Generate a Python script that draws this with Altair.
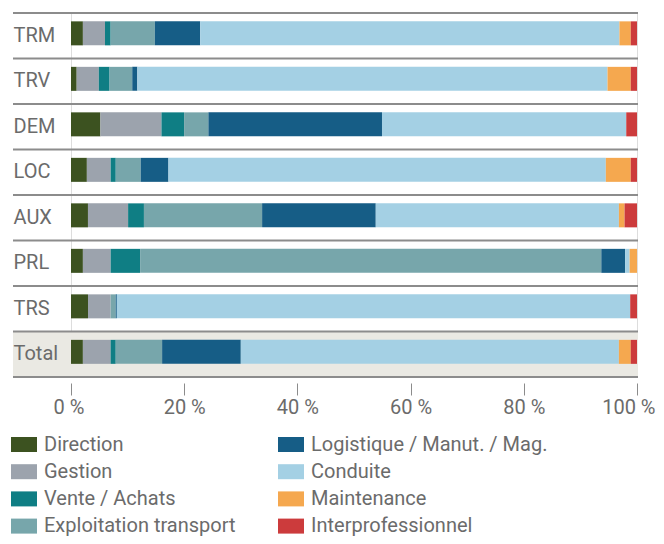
import altair as alt
import pandas as pd

cats = ["TRM", "TRV", "DEM", "LOC", "AUX", "PRL", "TRS", "Total"]
series = ["Direction", "Gestion", "Vente / Achats", "Exploitation transport",
          "Logistique / Manut. / Mag.", "Conduite", "Maintenance", "Interprofessionnel"]
colors = ["#3c5220", "#9ca3ad", "#0f7e84", "#77a6ab", "#165d86", "#a4d0e4", "#f5a84f", "#cc3b3c"]

direction = [2.1, 1.0, 5.2, 2.8, 3.0, 2.1, 3.0, 2.1]
gestion = [3.9, 3.9, 10.8, 4.2, 7.1, 4.9, 4.0, 4.9]
vente = [1.0, 1.9, 4.0, 0.9, 2.8, 5.2, 0.0, 0.9]
exploitation = [7.8, 4.0, 4.3, 4.4, 20.9, 81.4, 0.9, 8.2]
logistique = [8.0, 0.9, 30.7, 4.9, 20.1, 4.2, 0.2, 13.9]
conduite = [74.0, 82.9, 43.2, 77.2, 43.0, 0.8, 90.7, 66.8]
maintenance = [2.0, 4.1, 0.0, 4.4, 1.0, 1.3, 0.0, 2.1]
interpro = [1.1, 1.1, 1.9, 1.1, 2.2, 0.0, 1.2, 1.1]
ticks = [0, 0.2, 0.4, 0.6, 0.8, 1.0]

vals = [direction, gestion, vente, exploitation, logistique, conduite, maintenance, interpro]
rows = []
for si, s in enumerate(series):
    for ci, c in enumerate(cats):
        rows.append({"cat": c, "serie": s, "idx": si, "val": vals[si][ci]})
df = pd.DataFrame(rows)

FONT = "Roboto"
GRAY = "#6b6b6b"
LINE = "#8c8c8c"

yscale = alt.Scale(domain=cats, paddingInner=0, paddingOuter=0)
yaxis = alt.Axis(title=None, labelAlign="left", labelPadding=58, ticks=False, domain=False,
                 grid=False, labelFont=FONT, labelFontSize=20, labelColor=GRAY)

bg = alt.Chart(pd.DataFrame({"cat": ["Total"]})).mark_rect(color="#eae9e3").encode(
    y=alt.Y("cat:N", scale=yscale, axis=yaxis),
    x=alt.value(-58), x2=alt.value(567),
)

lines = alt.Chart(pd.DataFrame({"cat": cats})).mark_rule(color=LINE, strokeWidth=2).encode(
    y=alt.Y("cat:N", scale=yscale, axis=yaxis, bandPosition=0),
    x=alt.value(-58), x2=alt.value(567),
)

bottom = alt.Chart(pd.DataFrame({"cat": ["Total"]})).mark_rule(color=LINE, strokeWidth=2).encode(
    y=alt.Y("cat:N", scale=yscale, axis=yaxis, bandPosition=1),
    x=alt.value(-58), x2=alt.value(567),
)

bars = alt.Chart(df).mark_bar(height=24, yOffset=-2.4).encode(
    y=alt.Y("cat:N", scale=yscale, axis=yaxis),
    x=alt.X("val:Q", stack="normalize",
            scale=alt.Scale(domain=[0, 1], nice=False),
            axis=alt.Axis(title=None, values=ticks, labelExpr="format(datum.value*100, 'd') + ' %'",
                          labelFlush=True, labelFlushOffset=18, domain=False, grid=False,
                          tickSize=12, tickColor=LINE, tickWidth=1, offset=6, labelPadding=2,
                          labelFont=FONT, labelFontSize=20, labelColor=GRAY)),
    color=alt.Color("serie:N", scale=alt.Scale(domain=series, range=colors),
                    legend=alt.Legend(title=None, orient="none", legendX=-60, legendY=418.5, columns=2,
                                      symbolType="M-1,-0.577H1V0.577H-1Z", symbolSize=676,
                                      symbolStrokeWidth=0, symbolOpacity=1, labelFont=FONT,
                                      labelFontSize=20, labelColor=GRAY, rowPadding=4.2,
                                      columnPadding=42, labelOffset=7, padding=0, labelLimit=400)),
    order=alt.Order("idx:Q"),
)

chart = alt.layer(bg, lines, bottom, bars).properties(
    width=566, height=364,
    autosize=alt.AutoSizeParams(type="none"),
    padding={"left": 63, "top": 5, "right": 19, "bottom": 159},
).configure_view(stroke=None).configure(font=FONT)

chart.save("out.html", embed_options={"renderer": "svg", "actions": False})
